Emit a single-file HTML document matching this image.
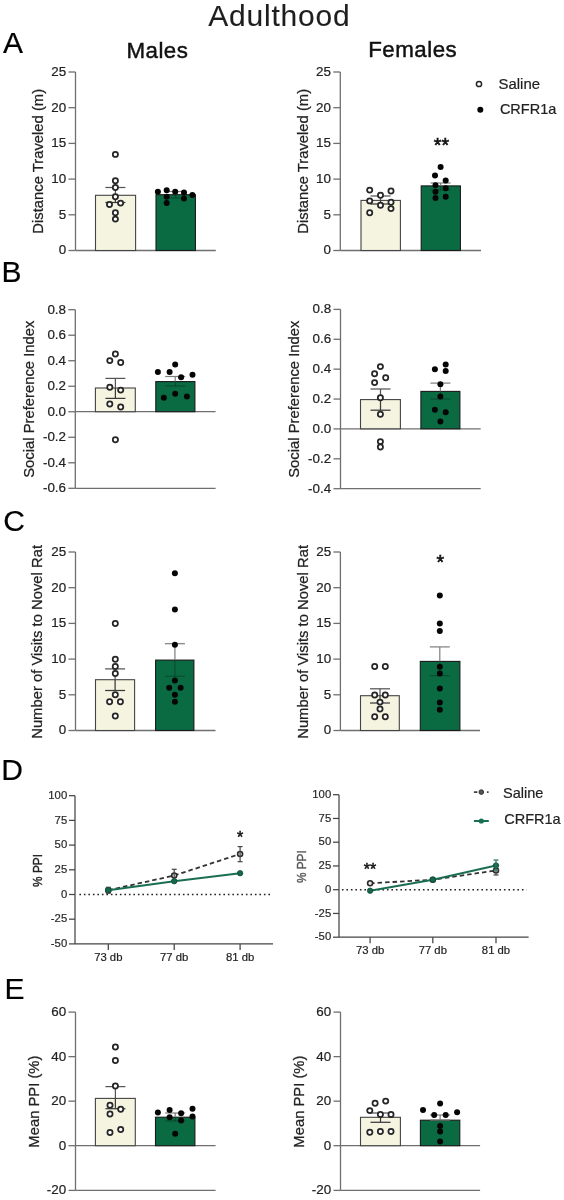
<!DOCTYPE html>
<html><head><meta charset="utf-8"><title>Adulthood</title>
<style>
html,body{margin:0;padding:0;background:#fff;}
body{width:564px;height:1200px;overflow:hidden;}
svg{display:block;font-family:"Liberation Sans", sans-serif;will-change:transform;}
</style></head>
<body>
<svg width="564" height="1200" viewBox="0 0 564 1200">
<rect width="564" height="1200" fill="#fff"/>
<text x="279.4" y="26.2" font-size="30" text-anchor="middle" fill="#1e1e1e" stroke="#1e1e1e" stroke-width="0.1" letter-spacing="0.8">Adulthood</text>
<text x="157.4" y="57.7" font-size="22.3" text-anchor="middle" fill="#111" stroke="#111" stroke-width="0.45" letter-spacing="0.5">Males</text>
<text x="412.7" y="57.4" font-size="22.3" text-anchor="middle" fill="#111" stroke="#111" stroke-width="0.45" letter-spacing="0.5">Females</text>
<text x="3" y="53" font-size="30" text-anchor="start" fill="#000" stroke="#000" stroke-width="0.2" >A</text>
<text x="1.5" y="282" font-size="30" text-anchor="start" fill="#000" stroke="#000" stroke-width="0.2" >B</text>
<text x="3.3" y="531" font-size="30" text-anchor="start" fill="#000" stroke="#000" stroke-width="0.2" >C</text>
<text x="1.3" y="780" font-size="30" text-anchor="start" fill="#000" stroke="#000" stroke-width="0.2" >D</text>
<text x="4.6" y="999" font-size="30" text-anchor="start" fill="#000" stroke="#000" stroke-width="0.2" >E</text>
<line x1="75.5" y1="72.0" x2="75.5" y2="250.5" stroke="#6f6f6f" stroke-width="1.3" />
<line x1="68.5" y1="250.5" x2="75.5" y2="250.5" stroke="#6f6f6f" stroke-width="1.3" />
<text x="66.2" y="254.4" font-size="13.4" text-anchor="end" fill="#222" stroke="#222" stroke-width="0.2" >0</text>
<line x1="68.5" y1="214.8" x2="75.5" y2="214.8" stroke="#6f6f6f" stroke-width="1.3" />
<text x="66.2" y="218.70000000000002" font-size="13.4" text-anchor="end" fill="#222" stroke="#222" stroke-width="0.2" >5</text>
<line x1="68.5" y1="179.1" x2="75.5" y2="179.1" stroke="#6f6f6f" stroke-width="1.3" />
<text x="66.2" y="183.0" font-size="13.4" text-anchor="end" fill="#222" stroke="#222" stroke-width="0.2" >10</text>
<line x1="68.5" y1="143.39999999999998" x2="75.5" y2="143.39999999999998" stroke="#6f6f6f" stroke-width="1.3" />
<text x="66.2" y="147.29999999999998" font-size="13.4" text-anchor="end" fill="#222" stroke="#222" stroke-width="0.2" >15</text>
<line x1="68.5" y1="107.69999999999999" x2="75.5" y2="107.69999999999999" stroke="#6f6f6f" stroke-width="1.3" />
<text x="66.2" y="111.6" font-size="13.4" text-anchor="end" fill="#222" stroke="#222" stroke-width="0.2" >20</text>
<line x1="68.5" y1="72.0" x2="75.5" y2="72.0" stroke="#6f6f6f" stroke-width="1.3" />
<text x="66.2" y="75.9" font-size="13.4" text-anchor="end" fill="#222" stroke="#222" stroke-width="0.2" >25</text>
<line x1="75.5" y1="250.5" x2="215.8" y2="250.5" stroke="#6f6f6f" stroke-width="1.3" />
<text transform="translate(42.6,161.3) rotate(-90)" x="0" y="0" font-size="14.8" text-anchor="middle" fill="#222" stroke="#222" stroke-width="0.25" >Distance Traveled (m)</text>
<rect x="95.5" y="195.3" width="40.099999999999994" height="55.19999999999999" fill="#f4f4e1" stroke="#444" stroke-width="1.1"/>
<rect x="156" y="194.7" width="39.400000000000006" height="55.80000000000001" fill="#0a6b43" stroke="#1a1a1a" stroke-width="1.1"/>
<line x1="115.4" y1="187.5" x2="115.4" y2="195.3" stroke="#555" stroke-width="1.25" />
<line x1="115.4" y1="195.3" x2="115.4" y2="202.5" stroke="#3a3a3a" stroke-width="1.25" />
<line x1="105.4" y1="187.5" x2="125.4" y2="187.5" stroke="#555" stroke-width="1.25" />
<line x1="105.4" y1="202.5" x2="125.4" y2="202.5" stroke="#3a3a3a" stroke-width="1.25" />
<circle cx="115.4" cy="154.4" r="2.6" fill="#ffffff" stroke="#262626" stroke-width="1.75"/>
<circle cx="115.4" cy="180.7" r="2.6" fill="#ffffff" stroke="#262626" stroke-width="1.75"/>
<circle cx="115.4" cy="187.5" r="2.6" fill="#ffffff" stroke="#262626" stroke-width="1.75"/>
<circle cx="115.4" cy="196.7" r="2.6" fill="#ffffff" stroke="#262626" stroke-width="1.75"/>
<circle cx="109.5" cy="204.5" r="2.6" fill="#ffffff" stroke="#262626" stroke-width="1.75"/>
<circle cx="120.6" cy="203.1" r="2.6" fill="#ffffff" stroke="#262626" stroke-width="1.75"/>
<circle cx="115.4" cy="212.7" r="2.6" fill="#ffffff" stroke="#262626" stroke-width="1.75"/>
<circle cx="115.4" cy="219.1" r="2.6" fill="#ffffff" stroke="#262626" stroke-width="1.75"/>
<line x1="175.7" y1="191.5" x2="175.7" y2="194.7" stroke="#7d7d7d" stroke-width="1.2" />
<line x1="175.7" y1="194.7" x2="175.7" y2="198" stroke="rgba(0,0,0,0.28)" stroke-width="1.2" />
<line x1="165.7" y1="191.5" x2="185.7" y2="191.5" stroke="#7d7d7d" stroke-width="1.2" />
<line x1="165.7" y1="198" x2="185.7" y2="198" stroke="rgba(0,0,0,0.28)" stroke-width="1.2" />
<circle cx="157.9" cy="191.8" r="3.0" fill="#050505"/>
<circle cx="166.7" cy="190.2" r="3.0" fill="#050505"/>
<circle cx="166.7" cy="196.7" r="3.0" fill="#050505"/>
<circle cx="166.7" cy="202.9" r="3.0" fill="#050505"/>
<circle cx="175.2" cy="191.8" r="3.0" fill="#050505"/>
<circle cx="184" cy="192.4" r="3.0" fill="#050505"/>
<circle cx="184" cy="198.6" r="3.0" fill="#050505"/>
<circle cx="192.4" cy="195.1" r="3.0" fill="#050505"/>
<line x1="340.3" y1="72.0" x2="340.3" y2="250.5" stroke="#6f6f6f" stroke-width="1.3" />
<line x1="333.3" y1="250.5" x2="340.3" y2="250.5" stroke="#6f6f6f" stroke-width="1.3" />
<text x="331.0" y="254.4" font-size="13.4" text-anchor="end" fill="#222" stroke="#222" stroke-width="0.2" >0</text>
<line x1="333.3" y1="214.8" x2="340.3" y2="214.8" stroke="#6f6f6f" stroke-width="1.3" />
<text x="331.0" y="218.70000000000002" font-size="13.4" text-anchor="end" fill="#222" stroke="#222" stroke-width="0.2" >5</text>
<line x1="333.3" y1="179.1" x2="340.3" y2="179.1" stroke="#6f6f6f" stroke-width="1.3" />
<text x="331.0" y="183.0" font-size="13.4" text-anchor="end" fill="#222" stroke="#222" stroke-width="0.2" >10</text>
<line x1="333.3" y1="143.39999999999998" x2="340.3" y2="143.39999999999998" stroke="#6f6f6f" stroke-width="1.3" />
<text x="331.0" y="147.29999999999998" font-size="13.4" text-anchor="end" fill="#222" stroke="#222" stroke-width="0.2" >15</text>
<line x1="333.3" y1="107.69999999999999" x2="340.3" y2="107.69999999999999" stroke="#6f6f6f" stroke-width="1.3" />
<text x="331.0" y="111.6" font-size="13.4" text-anchor="end" fill="#222" stroke="#222" stroke-width="0.2" >20</text>
<line x1="333.3" y1="72.0" x2="340.3" y2="72.0" stroke="#6f6f6f" stroke-width="1.3" />
<text x="331.0" y="75.9" font-size="13.4" text-anchor="end" fill="#222" stroke="#222" stroke-width="0.2" >25</text>
<line x1="340.3" y1="250.5" x2="481" y2="250.5" stroke="#6f6f6f" stroke-width="1.3" />
<text transform="translate(307.8,161.3) rotate(-90)" x="0" y="0" font-size="14.8" text-anchor="middle" fill="#222" stroke="#222" stroke-width="0.25" >Distance Traveled (m)</text>
<rect x="361" y="200.4" width="39.39999999999998" height="50.099999999999994" fill="#f4f4e1" stroke="#444" stroke-width="1.1"/>
<rect x="421.2" y="185.9" width="39.19999999999999" height="64.6" fill="#0a6b43" stroke="#1a1a1a" stroke-width="1.1"/>
<line x1="380.5" y1="196" x2="380.5" y2="200.4" stroke="#555" stroke-width="1.25" />
<line x1="380.5" y1="200.4" x2="380.5" y2="204" stroke="#3a3a3a" stroke-width="1.25" />
<line x1="370.5" y1="196" x2="390.5" y2="196" stroke="#555" stroke-width="1.25" />
<line x1="370.5" y1="204" x2="390.5" y2="204" stroke="#3a3a3a" stroke-width="1.25" />
<circle cx="369.7" cy="190.1" r="2.6" fill="#ffffff" stroke="#262626" stroke-width="1.75"/>
<circle cx="380.5" cy="195.2" r="2.6" fill="#ffffff" stroke="#262626" stroke-width="1.75"/>
<circle cx="391" cy="191" r="2.6" fill="#ffffff" stroke="#262626" stroke-width="1.75"/>
<circle cx="369.7" cy="200.9" r="2.6" fill="#ffffff" stroke="#262626" stroke-width="1.75"/>
<circle cx="380.5" cy="205.2" r="2.6" fill="#ffffff" stroke="#262626" stroke-width="1.75"/>
<circle cx="391" cy="202.3" r="2.6" fill="#ffffff" stroke="#262626" stroke-width="1.75"/>
<circle cx="391" cy="208.6" r="2.6" fill="#ffffff" stroke="#262626" stroke-width="1.75"/>
<circle cx="369.7" cy="212.8" r="2.6" fill="#ffffff" stroke="#262626" stroke-width="1.75"/>
<line x1="440.6" y1="183" x2="440.6" y2="185.9" stroke="#7d7d7d" stroke-width="1.2" />
<line x1="440.6" y1="185.9" x2="440.6" y2="190" stroke="rgba(0,0,0,0.28)" stroke-width="1.2" />
<line x1="430.6" y1="183" x2="450.6" y2="183" stroke="#7d7d7d" stroke-width="1.2" />
<line x1="430.6" y1="190" x2="450.6" y2="190" stroke="rgba(0,0,0,0.28)" stroke-width="1.2" />
<circle cx="440.6" cy="166.9" r="3.0" fill="#050505"/>
<circle cx="435" cy="175.4" r="3.0" fill="#050505"/>
<circle cx="445.7" cy="180.5" r="3.0" fill="#050505"/>
<circle cx="435.5" cy="185.3" r="3.0" fill="#050505"/>
<circle cx="445.7" cy="188.2" r="3.0" fill="#050505"/>
<circle cx="435.5" cy="191.8" r="3.0" fill="#050505"/>
<circle cx="435.5" cy="198.1" r="3.0" fill="#050505"/>
<circle cx="445.7" cy="196.7" r="3.0" fill="#050505"/>
<text x="441.4" y="152.3" font-size="19.5" text-anchor="middle" fill="#111" stroke="#111" stroke-width="0.6" >**</text>
<circle cx="479" cy="84" r="2.6" fill="#ffffff" stroke="#262626" stroke-width="1.5"/>
<text x="498.6" y="88.6" font-size="14.9" text-anchor="start" fill="#222" stroke="#222" stroke-width="0.2" >Saline</text>
<circle cx="480.3" cy="109.8" r="3" fill="#050505"/>
<text x="499.9" y="114.4" font-size="14.5" text-anchor="start" fill="#222" stroke="#222" stroke-width="0.2" >CRFR1a</text>
<line x1="75.3" y1="309.7" x2="75.3" y2="488.3" stroke="#6f6f6f" stroke-width="1.3" />
<line x1="68.3" y1="309.7" x2="75.3" y2="309.7" stroke="#6f6f6f" stroke-width="1.3" />
<text x="66.0" y="313.59999999999997" font-size="13.4" text-anchor="end" fill="#222" stroke="#222" stroke-width="0.2" >0.8</text>
<line x1="68.3" y1="335.2142857142857" x2="75.3" y2="335.2142857142857" stroke="#6f6f6f" stroke-width="1.3" />
<text x="66.0" y="339.1142857142857" font-size="13.4" text-anchor="end" fill="#222" stroke="#222" stroke-width="0.2" >0.6</text>
<line x1="68.3" y1="360.7285714285714" x2="75.3" y2="360.7285714285714" stroke="#6f6f6f" stroke-width="1.3" />
<text x="66.0" y="364.6285714285714" font-size="13.4" text-anchor="end" fill="#222" stroke="#222" stroke-width="0.2" >0.4</text>
<line x1="68.3" y1="386.24285714285713" x2="75.3" y2="386.24285714285713" stroke="#6f6f6f" stroke-width="1.3" />
<text x="66.0" y="390.1428571428571" font-size="13.4" text-anchor="end" fill="#222" stroke="#222" stroke-width="0.2" >0.2</text>
<line x1="68.3" y1="411.75714285714287" x2="75.3" y2="411.75714285714287" stroke="#6f6f6f" stroke-width="1.3" />
<text x="66.0" y="415.65714285714284" font-size="13.4" text-anchor="end" fill="#222" stroke="#222" stroke-width="0.2" >0.0</text>
<line x1="68.3" y1="437.2714285714286" x2="75.3" y2="437.2714285714286" stroke="#6f6f6f" stroke-width="1.3" />
<text x="66.0" y="441.1714285714286" font-size="13.4" text-anchor="end" fill="#222" stroke="#222" stroke-width="0.2" >-0.2</text>
<line x1="68.3" y1="462.78571428571433" x2="75.3" y2="462.78571428571433" stroke="#6f6f6f" stroke-width="1.3" />
<text x="66.0" y="466.6857142857143" font-size="13.4" text-anchor="end" fill="#222" stroke="#222" stroke-width="0.2" >-0.4</text>
<line x1="68.3" y1="488.30000000000007" x2="75.3" y2="488.30000000000007" stroke="#6f6f6f" stroke-width="1.3" />
<text x="66.0" y="492.20000000000005" font-size="13.4" text-anchor="end" fill="#222" stroke="#222" stroke-width="0.2" >-0.6</text>
<line x1="75.3" y1="411.7" x2="215.6" y2="411.7" stroke="#6f6f6f" stroke-width="1.3" />
<line x1="75.3" y1="488.3" x2="215.6" y2="488.3" stroke="#6f6f6f" stroke-width="1.3" />
<text transform="translate(33.7,399.2) rotate(-90)" x="0" y="0" font-size="14.8" text-anchor="middle" fill="#222" stroke="#222" stroke-width="0.25" >Social Preference Index</text>
<rect x="95.4" y="388" width="39.900000000000006" height="23.69999999999999" fill="#f4f4e1" stroke="#444" stroke-width="1.1"/>
<rect x="155.8" y="381.6" width="39.099999999999994" height="30.099999999999966" fill="#0a6b43" stroke="#1a1a1a" stroke-width="1.1"/>
<line x1="115.4" y1="378.4" x2="115.4" y2="388" stroke="#555" stroke-width="1.25" />
<line x1="115.4" y1="388" x2="115.4" y2="398.4" stroke="#3a3a3a" stroke-width="1.25" />
<line x1="105.4" y1="378.4" x2="125.4" y2="378.4" stroke="#555" stroke-width="1.25" />
<line x1="105.4" y1="398.4" x2="125.4" y2="398.4" stroke="#3a3a3a" stroke-width="1.25" />
<circle cx="115.4" cy="353.9" r="2.6" fill="#ffffff" stroke="#262626" stroke-width="1.75"/>
<circle cx="109.8" cy="360.6" r="2.6" fill="#ffffff" stroke="#262626" stroke-width="1.75"/>
<circle cx="120.7" cy="362.4" r="2.6" fill="#ffffff" stroke="#262626" stroke-width="1.75"/>
<circle cx="109.8" cy="387.2" r="2.6" fill="#ffffff" stroke="#262626" stroke-width="1.75"/>
<circle cx="120.7" cy="390.1" r="2.6" fill="#ffffff" stroke="#262626" stroke-width="1.75"/>
<circle cx="109.8" cy="403.9" r="2.6" fill="#ffffff" stroke="#262626" stroke-width="1.75"/>
<circle cx="120.7" cy="406.9" r="2.6" fill="#ffffff" stroke="#262626" stroke-width="1.75"/>
<circle cx="115.4" cy="439.8" r="2.6" fill="#ffffff" stroke="#262626" stroke-width="1.75"/>
<line x1="175.2" y1="376.5" x2="175.2" y2="381.6" stroke="#7d7d7d" stroke-width="1.2" />
<line x1="175.2" y1="381.6" x2="175.2" y2="386" stroke="rgba(0,0,0,0.28)" stroke-width="1.2" />
<line x1="165.2" y1="376.5" x2="185.2" y2="376.5" stroke="#7d7d7d" stroke-width="1.2" />
<line x1="165.2" y1="386" x2="185.2" y2="386" stroke="rgba(0,0,0,0.28)" stroke-width="1.2" />
<circle cx="175.2" cy="364.6" r="3.0" fill="#050505"/>
<circle cx="157.9" cy="372" r="3.0" fill="#050505"/>
<circle cx="169.6" cy="372" r="3.0" fill="#050505"/>
<circle cx="181.1" cy="377.3" r="3.0" fill="#050505"/>
<circle cx="192.5" cy="374.7" r="3.0" fill="#050505"/>
<circle cx="163.8" cy="397.8" r="3.0" fill="#050505"/>
<circle cx="175.2" cy="393.8" r="3.0" fill="#050505"/>
<circle cx="186.9" cy="396.5" r="3.0" fill="#050505"/>
<line x1="340.5" y1="309.4" x2="340.5" y2="488.7" stroke="#6f6f6f" stroke-width="1.3" />
<line x1="333.5" y1="309.4" x2="340.5" y2="309.4" stroke="#6f6f6f" stroke-width="1.3" />
<text x="331.2" y="313.29999999999995" font-size="13.4" text-anchor="end" fill="#222" stroke="#222" stroke-width="0.2" >0.8</text>
<line x1="333.5" y1="339.2833333333333" x2="340.5" y2="339.2833333333333" stroke="#6f6f6f" stroke-width="1.3" />
<text x="331.2" y="343.1833333333333" font-size="13.4" text-anchor="end" fill="#222" stroke="#222" stroke-width="0.2" >0.6</text>
<line x1="333.5" y1="369.16666666666663" x2="340.5" y2="369.16666666666663" stroke="#6f6f6f" stroke-width="1.3" />
<text x="331.2" y="373.0666666666666" font-size="13.4" text-anchor="end" fill="#222" stroke="#222" stroke-width="0.2" >0.4</text>
<line x1="333.5" y1="399.05" x2="340.5" y2="399.05" stroke="#6f6f6f" stroke-width="1.3" />
<text x="331.2" y="402.95" font-size="13.4" text-anchor="end" fill="#222" stroke="#222" stroke-width="0.2" >0.2</text>
<line x1="333.5" y1="428.93333333333334" x2="340.5" y2="428.93333333333334" stroke="#6f6f6f" stroke-width="1.3" />
<text x="331.2" y="432.8333333333333" font-size="13.4" text-anchor="end" fill="#222" stroke="#222" stroke-width="0.2" >0.0</text>
<line x1="333.5" y1="458.8166666666666" x2="340.5" y2="458.8166666666666" stroke="#6f6f6f" stroke-width="1.3" />
<text x="331.2" y="462.7166666666666" font-size="13.4" text-anchor="end" fill="#222" stroke="#222" stroke-width="0.2" >-0.2</text>
<line x1="333.5" y1="488.70000000000005" x2="340.5" y2="488.70000000000005" stroke="#6f6f6f" stroke-width="1.3" />
<text x="331.2" y="492.6" font-size="13.4" text-anchor="end" fill="#222" stroke="#222" stroke-width="0.2" >-0.4</text>
<line x1="340.5" y1="428.8" x2="480.7" y2="428.8" stroke="#6f6f6f" stroke-width="1.3" />
<line x1="340.5" y1="488.7" x2="480.7" y2="488.7" stroke="#6f6f6f" stroke-width="1.3" />
<text transform="translate(298.9,399.2) rotate(-90)" x="0" y="0" font-size="14.8" text-anchor="middle" fill="#222" stroke="#222" stroke-width="0.25" >Social Preference Index</text>
<rect x="360.5" y="399.6" width="39.89999999999998" height="29.19999999999999" fill="#f4f4e1" stroke="#444" stroke-width="1.1"/>
<rect x="420.9" y="391.4" width="39.0" height="37.400000000000034" fill="#0a6b43" stroke="#1a1a1a" stroke-width="1.1"/>
<line x1="380.5" y1="389" x2="380.5" y2="399.6" stroke="#555" stroke-width="1.25" />
<line x1="380.5" y1="399.6" x2="380.5" y2="410.2" stroke="#3a3a3a" stroke-width="1.25" />
<line x1="370.5" y1="389" x2="390.5" y2="389" stroke="#555" stroke-width="1.25" />
<line x1="370.5" y1="410.2" x2="390.5" y2="410.2" stroke="#3a3a3a" stroke-width="1.25" />
<circle cx="380.4" cy="366.6" r="2.6" fill="#ffffff" stroke="#262626" stroke-width="1.75"/>
<circle cx="374.6" cy="373.8" r="2.6" fill="#ffffff" stroke="#262626" stroke-width="1.75"/>
<circle cx="385.7" cy="377.8" r="2.6" fill="#ffffff" stroke="#262626" stroke-width="1.75"/>
<circle cx="374.6" cy="382.6" r="2.6" fill="#ffffff" stroke="#262626" stroke-width="1.75"/>
<circle cx="380.4" cy="397.7" r="2.6" fill="#ffffff" stroke="#262626" stroke-width="1.75"/>
<circle cx="380.4" cy="414.2" r="2.6" fill="#ffffff" stroke="#262626" stroke-width="1.75"/>
<circle cx="380.4" cy="441.6" r="2.6" fill="#ffffff" stroke="#262626" stroke-width="1.75"/>
<circle cx="380.4" cy="446.9" r="2.6" fill="#ffffff" stroke="#262626" stroke-width="1.75"/>
<line x1="440.4" y1="383.1" x2="440.4" y2="391.4" stroke="#7d7d7d" stroke-width="1.2" />
<line x1="440.4" y1="391.4" x2="440.4" y2="399" stroke="rgba(0,0,0,0.28)" stroke-width="1.2" />
<line x1="430.4" y1="383.1" x2="450.4" y2="383.1" stroke="#7d7d7d" stroke-width="1.2" />
<line x1="430.4" y1="399" x2="450.4" y2="399" stroke="rgba(0,0,0,0.28)" stroke-width="1.2" />
<circle cx="445.7" cy="364.5" r="3.0" fill="#050505"/>
<circle cx="434.9" cy="369.3" r="3.0" fill="#050505"/>
<circle cx="445.7" cy="371" r="3.0" fill="#050505"/>
<circle cx="440.4" cy="384.3" r="3.0" fill="#050505"/>
<circle cx="440.4" cy="396.4" r="3.0" fill="#050505"/>
<circle cx="434.9" cy="409.7" r="3.0" fill="#050505"/>
<circle cx="445.7" cy="412.3" r="3.0" fill="#050505"/>
<circle cx="440.4" cy="421.6" r="3.0" fill="#050505"/>
<line x1="75.5" y1="552.0" x2="75.5" y2="730.5" stroke="#6f6f6f" stroke-width="1.3" />
<line x1="68.5" y1="730.5" x2="75.5" y2="730.5" stroke="#6f6f6f" stroke-width="1.3" />
<text x="66.2" y="734.4" font-size="13.4" text-anchor="end" fill="#222" stroke="#222" stroke-width="0.2" >0</text>
<line x1="68.5" y1="694.8" x2="75.5" y2="694.8" stroke="#6f6f6f" stroke-width="1.3" />
<text x="66.2" y="698.6999999999999" font-size="13.4" text-anchor="end" fill="#222" stroke="#222" stroke-width="0.2" >5</text>
<line x1="68.5" y1="659.1" x2="75.5" y2="659.1" stroke="#6f6f6f" stroke-width="1.3" />
<text x="66.2" y="663.0" font-size="13.4" text-anchor="end" fill="#222" stroke="#222" stroke-width="0.2" >10</text>
<line x1="68.5" y1="623.4" x2="75.5" y2="623.4" stroke="#6f6f6f" stroke-width="1.3" />
<text x="66.2" y="627.3" font-size="13.4" text-anchor="end" fill="#222" stroke="#222" stroke-width="0.2" >15</text>
<line x1="68.5" y1="587.7" x2="75.5" y2="587.7" stroke="#6f6f6f" stroke-width="1.3" />
<text x="66.2" y="591.6" font-size="13.4" text-anchor="end" fill="#222" stroke="#222" stroke-width="0.2" >20</text>
<line x1="68.5" y1="552.0" x2="75.5" y2="552.0" stroke="#6f6f6f" stroke-width="1.3" />
<text x="66.2" y="555.9" font-size="13.4" text-anchor="end" fill="#222" stroke="#222" stroke-width="0.2" >25</text>
<line x1="75.5" y1="730.5" x2="215.5" y2="730.5" stroke="#6f6f6f" stroke-width="1.3" />
<text transform="translate(42.4,641.9) rotate(-90)" x="0" y="0" font-size="14.8" text-anchor="middle" fill="#222" stroke="#222" stroke-width="0.25" >Number of Visits to Novel Rat</text>
<rect x="95.5" y="679.7" width="39.099999999999994" height="50.799999999999955" fill="#f4f4e1" stroke="#444" stroke-width="1.1"/>
<rect x="155.6" y="660.1" width="38.30000000000001" height="70.39999999999998" fill="#0a6b43" stroke="#1a1a1a" stroke-width="1.1"/>
<line x1="115.1" y1="668.9" x2="115.1" y2="679.7" stroke="#555" stroke-width="1.25" />
<line x1="115.1" y1="679.7" x2="115.1" y2="690.5" stroke="#3a3a3a" stroke-width="1.25" />
<line x1="105.1" y1="668.9" x2="125.1" y2="668.9" stroke="#555" stroke-width="1.25" />
<line x1="105.1" y1="690.5" x2="125.1" y2="690.5" stroke="#3a3a3a" stroke-width="1.25" />
<circle cx="115.3" cy="623.5" r="2.6" fill="#ffffff" stroke="#262626" stroke-width="1.75"/>
<circle cx="115.3" cy="659.3" r="2.6" fill="#ffffff" stroke="#262626" stroke-width="1.75"/>
<circle cx="115.3" cy="666.4" r="2.6" fill="#ffffff" stroke="#262626" stroke-width="1.75"/>
<circle cx="115.3" cy="673.5" r="2.6" fill="#ffffff" stroke="#262626" stroke-width="1.75"/>
<circle cx="115.3" cy="694.8" r="2.6" fill="#ffffff" stroke="#262626" stroke-width="1.75"/>
<circle cx="109.6" cy="701.8" r="2.6" fill="#ffffff" stroke="#262626" stroke-width="1.75"/>
<circle cx="120.4" cy="701.8" r="2.6" fill="#ffffff" stroke="#262626" stroke-width="1.75"/>
<circle cx="115.3" cy="716" r="2.6" fill="#ffffff" stroke="#262626" stroke-width="1.75"/>
<line x1="174.9" y1="643.7" x2="174.9" y2="660.1" stroke="#7d7d7d" stroke-width="1.2" />
<line x1="174.9" y1="660.1" x2="174.9" y2="676.3" stroke="rgba(0,0,0,0.28)" stroke-width="1.2" />
<line x1="164.9" y1="643.7" x2="184.9" y2="643.7" stroke="#7d7d7d" stroke-width="1.2" />
<line x1="164.9" y1="676.3" x2="184.9" y2="676.3" stroke="rgba(0,0,0,0.28)" stroke-width="1.2" />
<circle cx="174.9" cy="573.3" r="3.0" fill="#050505"/>
<circle cx="174.9" cy="609.4" r="3.0" fill="#050505"/>
<circle cx="174.9" cy="644.8" r="3.0" fill="#050505"/>
<circle cx="174.9" cy="680.6" r="3.0" fill="#050505"/>
<circle cx="169.2" cy="687.7" r="3.0" fill="#050505"/>
<circle cx="180.6" cy="687.7" r="3.0" fill="#050505"/>
<circle cx="174.9" cy="694.8" r="3.0" fill="#050505"/>
<circle cx="174.9" cy="701.8" r="3.0" fill="#050505"/>
<line x1="340.4" y1="552.0" x2="340.4" y2="730.5" stroke="#6f6f6f" stroke-width="1.3" />
<line x1="333.4" y1="730.5" x2="340.4" y2="730.5" stroke="#6f6f6f" stroke-width="1.3" />
<text x="331.09999999999997" y="734.4" font-size="13.4" text-anchor="end" fill="#222" stroke="#222" stroke-width="0.2" >0</text>
<line x1="333.4" y1="694.8" x2="340.4" y2="694.8" stroke="#6f6f6f" stroke-width="1.3" />
<text x="331.09999999999997" y="698.6999999999999" font-size="13.4" text-anchor="end" fill="#222" stroke="#222" stroke-width="0.2" >5</text>
<line x1="333.4" y1="659.1" x2="340.4" y2="659.1" stroke="#6f6f6f" stroke-width="1.3" />
<text x="331.09999999999997" y="663.0" font-size="13.4" text-anchor="end" fill="#222" stroke="#222" stroke-width="0.2" >10</text>
<line x1="333.4" y1="623.4" x2="340.4" y2="623.4" stroke="#6f6f6f" stroke-width="1.3" />
<text x="331.09999999999997" y="627.3" font-size="13.4" text-anchor="end" fill="#222" stroke="#222" stroke-width="0.2" >15</text>
<line x1="333.4" y1="587.7" x2="340.4" y2="587.7" stroke="#6f6f6f" stroke-width="1.3" />
<text x="331.09999999999997" y="591.6" font-size="13.4" text-anchor="end" fill="#222" stroke="#222" stroke-width="0.2" >20</text>
<line x1="333.4" y1="552.0" x2="340.4" y2="552.0" stroke="#6f6f6f" stroke-width="1.3" />
<text x="331.09999999999997" y="555.9" font-size="13.4" text-anchor="end" fill="#222" stroke="#222" stroke-width="0.2" >25</text>
<line x1="340.4" y1="730.5" x2="480" y2="730.5" stroke="#6f6f6f" stroke-width="1.3" />
<text transform="translate(307.6,641.9) rotate(-90)" x="0" y="0" font-size="14.8" text-anchor="middle" fill="#222" stroke="#222" stroke-width="0.25" >Number of Visits to Novel Rat</text>
<rect x="360.5" y="695.7" width="38.80000000000001" height="34.799999999999955" fill="#f4f4e1" stroke="#444" stroke-width="1.1"/>
<rect x="420.3" y="661.4" width="39.599999999999966" height="69.10000000000002" fill="#0a6b43" stroke="#1a1a1a" stroke-width="1.1"/>
<line x1="380" y1="688.8" x2="380" y2="695.7" stroke="#555" stroke-width="1.25" />
<line x1="380" y1="695.7" x2="380" y2="703" stroke="#3a3a3a" stroke-width="1.25" />
<line x1="370" y1="688.8" x2="390" y2="688.8" stroke="#555" stroke-width="1.25" />
<line x1="370" y1="703" x2="390" y2="703" stroke="#3a3a3a" stroke-width="1.25" />
<circle cx="374.7" cy="666.4" r="2.6" fill="#ffffff" stroke="#262626" stroke-width="1.75"/>
<circle cx="385.3" cy="666.4" r="2.6" fill="#ffffff" stroke="#262626" stroke-width="1.75"/>
<circle cx="374.7" cy="695" r="2.6" fill="#ffffff" stroke="#262626" stroke-width="1.75"/>
<circle cx="385.3" cy="695" r="2.6" fill="#ffffff" stroke="#262626" stroke-width="1.75"/>
<circle cx="380" cy="702.1" r="2.6" fill="#ffffff" stroke="#262626" stroke-width="1.75"/>
<circle cx="380" cy="709" r="2.6" fill="#ffffff" stroke="#262626" stroke-width="1.75"/>
<circle cx="374.7" cy="716.7" r="2.6" fill="#ffffff" stroke="#262626" stroke-width="1.75"/>
<circle cx="385.3" cy="716.7" r="2.6" fill="#ffffff" stroke="#262626" stroke-width="1.75"/>
<line x1="439.8" y1="646.9" x2="439.8" y2="661.4" stroke="#7d7d7d" stroke-width="1.2" />
<line x1="439.8" y1="661.4" x2="439.8" y2="675.7" stroke="rgba(0,0,0,0.28)" stroke-width="1.2" />
<line x1="429.8" y1="646.9" x2="449.8" y2="646.9" stroke="#7d7d7d" stroke-width="1.2" />
<line x1="429.8" y1="675.7" x2="449.8" y2="675.7" stroke="rgba(0,0,0,0.28)" stroke-width="1.2" />
<circle cx="439.8" cy="595.4" r="3.0" fill="#050505"/>
<circle cx="439.8" cy="623.4" r="3.0" fill="#050505"/>
<circle cx="439.8" cy="631" r="3.0" fill="#050505"/>
<circle cx="439.8" cy="666.7" r="3.0" fill="#050505"/>
<circle cx="439.8" cy="673.6" r="3.0" fill="#050505"/>
<circle cx="439.8" cy="688.4" r="3.0" fill="#050505"/>
<circle cx="439.8" cy="702.6" r="3.0" fill="#050505"/>
<circle cx="439.8" cy="709.8" r="3.0" fill="#050505"/>
<text x="440.3" y="569" font-size="19.5" text-anchor="middle" fill="#111" stroke="#111" stroke-width="0.6" >*</text>
<line x1="75" y1="795.7" x2="75" y2="943.9" stroke="#444" stroke-width="1.25" />
<line x1="69" y1="795.7" x2="75" y2="795.7" stroke="#444" stroke-width="1.25" />
<text x="67.2" y="798.8000000000001" font-size="11.3" text-anchor="end" fill="#2a2a2a" stroke="#2a2a2a" stroke-width="0.2" >100</text>
<line x1="69" y1="820.4" x2="75" y2="820.4" stroke="#444" stroke-width="1.25" />
<text x="67.2" y="823.5" font-size="11.3" text-anchor="end" fill="#2a2a2a" stroke="#2a2a2a" stroke-width="0.2" >75</text>
<line x1="69" y1="845.1" x2="75" y2="845.1" stroke="#444" stroke-width="1.25" />
<text x="67.2" y="848.2" font-size="11.3" text-anchor="end" fill="#2a2a2a" stroke="#2a2a2a" stroke-width="0.2" >50</text>
<line x1="69" y1="869.8" x2="75" y2="869.8" stroke="#444" stroke-width="1.25" />
<text x="67.2" y="872.9" font-size="11.3" text-anchor="end" fill="#2a2a2a" stroke="#2a2a2a" stroke-width="0.2" >25</text>
<line x1="69" y1="894.5" x2="75" y2="894.5" stroke="#444" stroke-width="1.25" />
<text x="67.2" y="897.6" font-size="11.3" text-anchor="end" fill="#2a2a2a" stroke="#2a2a2a" stroke-width="0.2" >0</text>
<line x1="69" y1="919.2" x2="75" y2="919.2" stroke="#444" stroke-width="1.25" />
<text x="67.2" y="922.3000000000001" font-size="11.3" text-anchor="end" fill="#2a2a2a" stroke="#2a2a2a" stroke-width="0.2" >-25</text>
<line x1="69" y1="943.9" x2="75" y2="943.9" stroke="#444" stroke-width="1.25" />
<text x="67.2" y="947.0" font-size="11.3" text-anchor="end" fill="#2a2a2a" stroke="#2a2a2a" stroke-width="0.2" >-50</text>
<line x1="75" y1="943.9" x2="273" y2="943.9" stroke="#444" stroke-width="1.25" />
<line x1="108.3" y1="943.9" x2="108.3" y2="949.9" stroke="#444" stroke-width="1.25" />
<text x="108.3" y="960.9" font-size="11.3" text-anchor="middle" fill="#222" stroke="#222" stroke-width="0.2" >73 db</text>
<line x1="174.2" y1="943.9" x2="174.2" y2="949.9" stroke="#444" stroke-width="1.25" />
<text x="174.2" y="960.9" font-size="11.3" text-anchor="middle" fill="#222" stroke="#222" stroke-width="0.2" >77 db</text>
<line x1="240.1" y1="943.9" x2="240.1" y2="949.9" stroke="#444" stroke-width="1.25" />
<text x="240.1" y="960.9" font-size="11.3" text-anchor="middle" fill="#222" stroke="#222" stroke-width="0.2" >81 db</text>
<line x1="79.4" y1="894.5" x2="271" y2="894.5" stroke="#222" stroke-width="1.6" stroke-dasharray="1.6 2.9"/>
<text transform="translate(41.6,870.5) rotate(-90)" x="0" y="0" font-size="13.5" text-anchor="middle" fill="#222" stroke="#222" stroke-width="0.4" textLength="32.8" lengthAdjust="spacingAndGlyphs">% PPI</text>
<polyline points="108.3,890.2 174.2,875.5 240.1,854" fill="none" stroke="#333" stroke-width="1.8" stroke-dasharray="4.5 3"/>
<circle cx="108.3" cy="890.2" r="2.5" fill="#e8e8e8" stroke="#2a2a2a" stroke-width="1.6"/>
<circle cx="174.2" cy="875.5" r="2.5" fill="#e8e8e8" stroke="#2a2a2a" stroke-width="1.6"/>
<circle cx="240.1" cy="854" r="2.5" fill="#e8e8e8" stroke="#2a2a2a" stroke-width="1.6"/>
<line x1="108.3" y1="887.3" x2="108.3" y2="893.2" stroke="#444" stroke-width="1.2" />
<line x1="105.8" y1="887.3" x2="110.8" y2="887.3" stroke="#444" stroke-width="1.2" />
<line x1="105.8" y1="893.2" x2="110.8" y2="893.2" stroke="#444" stroke-width="1.2" />
<line x1="174.2" y1="869.3" x2="174.2" y2="880" stroke="#444" stroke-width="1.2" />
<line x1="171.7" y1="869.3" x2="176.7" y2="869.3" stroke="#444" stroke-width="1.2" />
<line x1="171.7" y1="880" x2="176.7" y2="880" stroke="#444" stroke-width="1.2" />
<line x1="240.1" y1="846.6" x2="240.1" y2="861.7" stroke="#444" stroke-width="1.2" />
<line x1="237.6" y1="846.6" x2="242.6" y2="846.6" stroke="#444" stroke-width="1.2" />
<line x1="237.6" y1="861.7" x2="242.6" y2="861.7" stroke="#444" stroke-width="1.2" />
<polyline points="108.3,890.3 174.2,881.2 240.1,873.2" fill="none" stroke="#1a6e50" stroke-width="1.9"/>
<circle cx="108.3" cy="890.3" r="2.7" fill="#15694a" stroke="#0f4a35" stroke-width="0.8"/>
<circle cx="174.2" cy="881.2" r="2.7" fill="#15694a" stroke="#0f4a35" stroke-width="0.8"/>
<circle cx="240.1" cy="873.2" r="2.7" fill="#15694a" stroke="#0f4a35" stroke-width="0.8"/>
<text x="240.2" y="842.5" font-size="16" text-anchor="middle" fill="#111" stroke="#111" stroke-width="0.5" >*</text>
<line x1="339" y1="794.7" x2="339" y2="937.2" stroke="#444" stroke-width="1.25" />
<line x1="333" y1="794.7" x2="339" y2="794.7" stroke="#444" stroke-width="1.25" />
<text x="331.2" y="797.8000000000001" font-size="11.3" text-anchor="end" fill="#2a2a2a" stroke="#2a2a2a" stroke-width="0.2" >100</text>
<line x1="333" y1="818.45" x2="339" y2="818.45" stroke="#444" stroke-width="1.25" />
<text x="331.2" y="821.5500000000001" font-size="11.3" text-anchor="end" fill="#2a2a2a" stroke="#2a2a2a" stroke-width="0.2" >75</text>
<line x1="333" y1="842.2" x2="339" y2="842.2" stroke="#444" stroke-width="1.25" />
<text x="331.2" y="845.3000000000001" font-size="11.3" text-anchor="end" fill="#2a2a2a" stroke="#2a2a2a" stroke-width="0.2" >50</text>
<line x1="333" y1="865.95" x2="339" y2="865.95" stroke="#444" stroke-width="1.25" />
<text x="331.2" y="869.0500000000001" font-size="11.3" text-anchor="end" fill="#2a2a2a" stroke="#2a2a2a" stroke-width="0.2" >25</text>
<line x1="333" y1="889.7" x2="339" y2="889.7" stroke="#444" stroke-width="1.25" />
<text x="331.2" y="892.8000000000001" font-size="11.3" text-anchor="end" fill="#2a2a2a" stroke="#2a2a2a" stroke-width="0.2" >0</text>
<line x1="333" y1="913.45" x2="339" y2="913.45" stroke="#444" stroke-width="1.25" />
<text x="331.2" y="916.5500000000001" font-size="11.3" text-anchor="end" fill="#2a2a2a" stroke="#2a2a2a" stroke-width="0.2" >-25</text>
<line x1="333" y1="937.2" x2="339" y2="937.2" stroke="#444" stroke-width="1.25" />
<text x="331.2" y="940.3000000000001" font-size="11.3" text-anchor="end" fill="#2a2a2a" stroke="#2a2a2a" stroke-width="0.2" >-50</text>
<line x1="339" y1="937.2" x2="528.6" y2="937.2" stroke="#444" stroke-width="1.25" />
<line x1="370.1" y1="937.2" x2="370.1" y2="943.2" stroke="#444" stroke-width="1.25" />
<text x="370.1" y="954.2" font-size="11.3" text-anchor="middle" fill="#222" stroke="#222" stroke-width="0.2" >73 db</text>
<line x1="432.8" y1="937.2" x2="432.8" y2="943.2" stroke="#444" stroke-width="1.25" />
<text x="432.8" y="954.2" font-size="11.3" text-anchor="middle" fill="#222" stroke="#222" stroke-width="0.2" >77 db</text>
<line x1="496" y1="937.2" x2="496" y2="943.2" stroke="#444" stroke-width="1.25" />
<text x="496" y="954.2" font-size="11.3" text-anchor="middle" fill="#222" stroke="#222" stroke-width="0.2" >81 db</text>
<line x1="341.9" y1="889.7" x2="526.6" y2="889.7" stroke="#222" stroke-width="1.6" stroke-dasharray="1.6 2.9"/>
<text transform="translate(306,866.7) rotate(-90)" x="0" y="0" font-size="13.5" text-anchor="middle" fill="#555" stroke="#555" stroke-width="0.4" textLength="32.8" lengthAdjust="spacingAndGlyphs">% PPI</text>
<polyline points="370.1,883.3 432.8,879.7 496,870.5" fill="none" stroke="#333" stroke-width="1.8" stroke-dasharray="4.5 3"/>
<circle cx="370.1" cy="883.3" r="2.5" fill="#e8e8e8" stroke="#2a2a2a" stroke-width="1.6"/>
<circle cx="432.8" cy="879.7" r="2.5" fill="#e8e8e8" stroke="#2a2a2a" stroke-width="1.6"/>
<circle cx="496" cy="870.5" r="2.5" fill="#e8e8e8" stroke="#2a2a2a" stroke-width="1.6"/>
<line x1="496" y1="866" x2="496" y2="875" stroke="#444" stroke-width="1.2" />
<line x1="493.5" y1="866" x2="498.5" y2="866" stroke="#444" stroke-width="1.2" />
<line x1="493.5" y1="875" x2="498.5" y2="875" stroke="#444" stroke-width="1.2" />
<polyline points="370.1,890.7 432.8,879.7 496,865.5" fill="none" stroke="#1a6e50" stroke-width="1.9"/>
<circle cx="370.1" cy="890.7" r="2.7" fill="#15694a" stroke="#0f4a35" stroke-width="0.8"/>
<circle cx="432.8" cy="879.7" r="2.7" fill="#15694a" stroke="#0f4a35" stroke-width="0.8"/>
<circle cx="496" cy="865.5" r="2.7" fill="#15694a" stroke="#0f4a35" stroke-width="0.8"/>
<line x1="496" y1="860" x2="496" y2="870" stroke="#2a7a5c" stroke-width="1.2" />
<line x1="493.5" y1="860" x2="498.5" y2="860" stroke="#2a7a5c" stroke-width="1.2" />
<line x1="493.5" y1="870" x2="498.5" y2="870" stroke="#2a7a5c" stroke-width="1.2" />
<text x="369.9" y="874.5" font-size="16" text-anchor="middle" fill="#111" stroke="#111" stroke-width="0.5" >**</text>
<line x1="473.9" y1="792.1" x2="488.6" y2="792.1" stroke="#444" stroke-width="1.8" stroke-dasharray="3.5 3"/>
<circle cx="481.3" cy="792.1" r="2.3" fill="#555" stroke="#333" stroke-width="1"/>
<text x="503" y="797.8" font-size="14.5" text-anchor="start" fill="#222" stroke="#222" stroke-width="0.2" >Saline</text>
<line x1="473.9" y1="821" x2="488.8" y2="821" stroke="#17704f" stroke-width="2" />
<circle cx="481.3" cy="821" r="2.6" fill="#17704f"/>
<text x="504.2" y="824.1" font-size="14.5" text-anchor="start" fill="#222" stroke="#222" stroke-width="0.2" >CRFR1a</text>
<line x1="75.5" y1="1012.1" x2="75.5" y2="1190.4" stroke="#6f6f6f" stroke-width="1.3" />
<line x1="68.5" y1="1012.1" x2="75.5" y2="1012.1" stroke="#6f6f6f" stroke-width="1.3" />
<text x="66.2" y="1016.0" font-size="13.4" text-anchor="end" fill="#222" stroke="#222" stroke-width="0.2" >60</text>
<line x1="68.5" y1="1056.6333333333334" x2="75.5" y2="1056.6333333333334" stroke="#6f6f6f" stroke-width="1.3" />
<text x="66.2" y="1060.5333333333335" font-size="13.4" text-anchor="end" fill="#222" stroke="#222" stroke-width="0.2" >40</text>
<line x1="68.5" y1="1101.1666666666667" x2="75.5" y2="1101.1666666666667" stroke="#6f6f6f" stroke-width="1.3" />
<text x="66.2" y="1105.0666666666668" font-size="13.4" text-anchor="end" fill="#222" stroke="#222" stroke-width="0.2" >20</text>
<line x1="68.5" y1="1145.7" x2="75.5" y2="1145.7" stroke="#6f6f6f" stroke-width="1.3" />
<text x="66.2" y="1149.6000000000001" font-size="13.4" text-anchor="end" fill="#222" stroke="#222" stroke-width="0.2" >0</text>
<line x1="68.5" y1="1190.4" x2="75.5" y2="1190.4" stroke="#6f6f6f" stroke-width="1.3" />
<text x="66.2" y="1194.3000000000002" font-size="13.4" text-anchor="end" fill="#222" stroke="#222" stroke-width="0.2" >-20</text>
<line x1="75.5" y1="1145.7" x2="215.6" y2="1145.7" stroke="#6f6f6f" stroke-width="1.3" />
<line x1="75.5" y1="1190.4" x2="215.6" y2="1190.4" stroke="#6f6f6f" stroke-width="1.3" />
<text transform="translate(38.5,1101.6) rotate(-90)" x="0" y="0" font-size="14.8" text-anchor="middle" fill="#222" stroke="#222" stroke-width="0.25" >Mean PPI (%)</text>
<rect x="95.4" y="1098.4" width="39.900000000000006" height="47.299999999999955" fill="#f4f4e1" stroke="#444" stroke-width="1.1"/>
<rect x="155.5" y="1117.2" width="39.400000000000006" height="28.5" fill="#0a6b43" stroke="#1a1a1a" stroke-width="1.1"/>
<line x1="115.4" y1="1086.6" x2="115.4" y2="1098.4" stroke="#555" stroke-width="1.25" />
<line x1="115.4" y1="1098.4" x2="115.4" y2="1108.7" stroke="#3a3a3a" stroke-width="1.25" />
<line x1="105.4" y1="1086.6" x2="125.4" y2="1086.6" stroke="#555" stroke-width="1.25" />
<line x1="105.4" y1="1108.7" x2="125.4" y2="1108.7" stroke="#3a3a3a" stroke-width="1.25" />
<circle cx="115.4" cy="1047" r="2.6" fill="#ffffff" stroke="#262626" stroke-width="1.75"/>
<circle cx="115.4" cy="1060.5" r="2.6" fill="#ffffff" stroke="#262626" stroke-width="1.75"/>
<circle cx="115.4" cy="1085.9" r="2.6" fill="#ffffff" stroke="#262626" stroke-width="1.75"/>
<circle cx="110" cy="1105.3" r="2.6" fill="#ffffff" stroke="#262626" stroke-width="1.75"/>
<circle cx="120.7" cy="1109.3" r="2.6" fill="#ffffff" stroke="#262626" stroke-width="1.75"/>
<circle cx="110" cy="1114" r="2.6" fill="#ffffff" stroke="#262626" stroke-width="1.75"/>
<circle cx="110" cy="1132.4" r="2.6" fill="#ffffff" stroke="#262626" stroke-width="1.75"/>
<circle cx="120.7" cy="1129.5" r="2.6" fill="#ffffff" stroke="#262626" stroke-width="1.75"/>
<line x1="175.2" y1="1113" x2="175.2" y2="1117.2" stroke="#7d7d7d" stroke-width="1.2" />
<line x1="175.2" y1="1117.2" x2="175.2" y2="1121" stroke="rgba(0,0,0,0.28)" stroke-width="1.2" />
<line x1="165.2" y1="1113" x2="185.2" y2="1113" stroke="#7d7d7d" stroke-width="1.2" />
<line x1="165.2" y1="1121" x2="185.2" y2="1121" stroke="rgba(0,0,0,0.28)" stroke-width="1.2" />
<circle cx="157.9" cy="1112.4" r="3.0" fill="#050505"/>
<circle cx="169.6" cy="1110" r="3.0" fill="#050505"/>
<circle cx="169.6" cy="1117.2" r="3.0" fill="#050505"/>
<circle cx="181.1" cy="1113.2" r="3.0" fill="#050505"/>
<circle cx="181.1" cy="1120.4" r="3.0" fill="#050505"/>
<circle cx="192.5" cy="1108.7" r="3.0" fill="#050505"/>
<circle cx="192.5" cy="1116.4" r="3.0" fill="#050505"/>
<circle cx="175.2" cy="1133.7" r="3.0" fill="#050505"/>
<line x1="340.5" y1="1012.1" x2="340.5" y2="1190.4" stroke="#6f6f6f" stroke-width="1.3" />
<line x1="333.5" y1="1012.1" x2="340.5" y2="1012.1" stroke="#6f6f6f" stroke-width="1.3" />
<text x="331.2" y="1016.0" font-size="13.4" text-anchor="end" fill="#222" stroke="#222" stroke-width="0.2" >60</text>
<line x1="333.5" y1="1056.6333333333334" x2="340.5" y2="1056.6333333333334" stroke="#6f6f6f" stroke-width="1.3" />
<text x="331.2" y="1060.5333333333335" font-size="13.4" text-anchor="end" fill="#222" stroke="#222" stroke-width="0.2" >40</text>
<line x1="333.5" y1="1101.1666666666667" x2="340.5" y2="1101.1666666666667" stroke="#6f6f6f" stroke-width="1.3" />
<text x="331.2" y="1105.0666666666668" font-size="13.4" text-anchor="end" fill="#222" stroke="#222" stroke-width="0.2" >20</text>
<line x1="333.5" y1="1145.7" x2="340.5" y2="1145.7" stroke="#6f6f6f" stroke-width="1.3" />
<text x="331.2" y="1149.6000000000001" font-size="13.4" text-anchor="end" fill="#222" stroke="#222" stroke-width="0.2" >0</text>
<line x1="333.5" y1="1190.4" x2="340.5" y2="1190.4" stroke="#6f6f6f" stroke-width="1.3" />
<text x="331.2" y="1194.3000000000002" font-size="13.4" text-anchor="end" fill="#222" stroke="#222" stroke-width="0.2" >-20</text>
<line x1="340.5" y1="1145.7" x2="480.1" y2="1145.7" stroke="#6f6f6f" stroke-width="1.3" />
<line x1="340.5" y1="1190.4" x2="480.1" y2="1190.4" stroke="#6f6f6f" stroke-width="1.3" />
<text transform="translate(303.5,1101.6) rotate(-90)" x="0" y="0" font-size="14.8" text-anchor="middle" fill="#222" stroke="#222" stroke-width="0.25" >Mean PPI (%)</text>
<rect x="360.5" y="1117.3" width="39.89999999999998" height="28.40000000000009" fill="#f4f4e1" stroke="#444" stroke-width="1.1"/>
<rect x="420.4" y="1120.2" width="39.400000000000034" height="25.5" fill="#0a6b43" stroke="#1a1a1a" stroke-width="1.1"/>
<line x1="380.5" y1="1113" x2="380.5" y2="1117.3" stroke="#555" stroke-width="1.25" />
<line x1="380.5" y1="1117.3" x2="380.5" y2="1122.3" stroke="#3a3a3a" stroke-width="1.25" />
<line x1="370.5" y1="1113" x2="390.5" y2="1113" stroke="#555" stroke-width="1.25" />
<line x1="370.5" y1="1122.3" x2="390.5" y2="1122.3" stroke="#3a3a3a" stroke-width="1.25" />
<circle cx="375.1" cy="1103.2" r="2.6" fill="#ffffff" stroke="#262626" stroke-width="1.75"/>
<circle cx="385.7" cy="1101.1" r="2.6" fill="#ffffff" stroke="#262626" stroke-width="1.75"/>
<circle cx="369.8" cy="1110.6" r="2.6" fill="#ffffff" stroke="#262626" stroke-width="1.75"/>
<circle cx="380.4" cy="1114.4" r="2.6" fill="#ffffff" stroke="#262626" stroke-width="1.75"/>
<circle cx="391" cy="1114.4" r="2.6" fill="#ffffff" stroke="#262626" stroke-width="1.75"/>
<circle cx="369.8" cy="1132.2" r="2.6" fill="#ffffff" stroke="#262626" stroke-width="1.75"/>
<circle cx="380.4" cy="1131.4" r="2.6" fill="#ffffff" stroke="#262626" stroke-width="1.75"/>
<circle cx="391" cy="1131.4" r="2.6" fill="#ffffff" stroke="#262626" stroke-width="1.75"/>
<line x1="440.1" y1="1115" x2="440.1" y2="1120" stroke="#7d7d7d" stroke-width="1.2" />
<line x1="430.1" y1="1115" x2="450.1" y2="1115" stroke="#7d7d7d" stroke-width="1.2" />
<line x1="430.1" y1="1120" x2="450.1" y2="1120" stroke="#7d7d7d" stroke-width="1.2" />
<circle cx="440.1" cy="1103.6" r="3.0" fill="#050505"/>
<circle cx="423" cy="1110.1" r="3.0" fill="#050505"/>
<circle cx="457.1" cy="1112.3" r="3.0" fill="#050505"/>
<circle cx="434.2" cy="1114.9" r="3.0" fill="#050505"/>
<circle cx="445.7" cy="1114.9" r="3.0" fill="#050505"/>
<circle cx="440.1" cy="1126.1" r="3.0" fill="#050505"/>
<circle cx="440.1" cy="1131.4" r="3.0" fill="#050505"/>
<circle cx="440.1" cy="1141.5" r="3.0" fill="#050505"/>
</svg>
</body></html>
